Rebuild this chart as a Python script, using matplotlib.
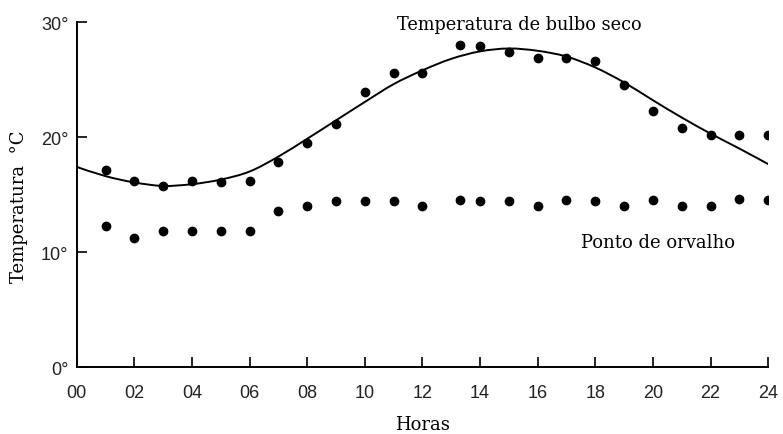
import numpy as np
import matplotlib.pyplot as plt
from matplotlib.path import Path
from matplotlib.patches import PathPatch

# hourly readings (dots)
hours = [1, 2, 3, 4, 5, 6, 7, 8, 9, 10, 11, 12, 13.3, 14, 15, 16, 17, 18, 19, 20, 21, 22, 23, 24]
dry_bulb = [17.1, 16.2, 15.7, 16.2, 16.1, 16.2, 17.8, 19.5, 21.1, 23.9, 25.6, 25.6,
            28.0, 27.9, 27.4, 26.9, 26.9, 26.6, 24.5, 22.3, 20.8, 20.2, 20.2, 20.2]
dew_point = [12.3, 11.2, 11.8, 11.8, 11.8, 11.8, 13.6, 14.0, 14.4, 14.4, 14.4, 14.0,
             14.5, 14.4, 14.4, 14.0, 14.5, 14.4, 14.0, 14.5, 14.0, 14.0, 14.6, 14.5]

# fitted curve of the dry bulb temperature, read hour by hour
curve_hours = list(range(0, 25))
curve_temp = [17.4, 16.6, 16.05, 15.75, 15.9, 16.3, 17.0, 18.3, 19.85, 21.45, 23.05, 24.6, 25.8,
              26.8, 27.45, 27.7, 27.5, 27.0, 26.05, 24.75, 23.2, 21.7, 20.3, 19.0, 17.65]

xtick_pos = list(range(0, 25, 2))
xtick_labels = ['%02d' % h for h in xtick_pos]
ytick_pos = [0, 10, 20, 30]
ytick_labels = ['0°', '10°', '20°', '30°']


def smooth_path(xs, ys):
    # cubic bezier segments through the given points (catmull-rom style handles)
    xs = np.asarray(xs, float)
    ys = np.asarray(ys, float)
    verts = [(xs[0], ys[0])]
    codes = [Path.MOVETO]
    n = len(xs)
    for i in range(n - 1):
        x0, y0 = (xs[i - 1], ys[i - 1]) if i > 0 else (xs[i], ys[i])
        x3, y3 = (xs[i + 2], ys[i + 2]) if i + 2 < n else (xs[i + 1], ys[i + 1])
        c1 = (xs[i] + (xs[i + 1] - x0) / 6, ys[i] + (ys[i + 1] - y0) / 6)
        c2 = (xs[i + 1] - (x3 - xs[i]) / 6, ys[i + 1] - (y3 - ys[i]) / 6)
        verts += [c1, c2, (xs[i + 1], ys[i + 1])]
        codes += [Path.CURVE4] * 3
    return Path(verts, codes)


fig = plt.figure(figsize=(7.83, 4.35), dpi=100)
ax = fig.add_axes([0.098, 0.154, 0.883, 0.793])

ax.add_patch(PathPatch(smooth_path(curve_hours, curve_temp), facecolor='none',
                       edgecolor='black', linewidth=1.4))
ax.plot(hours, dry_bulb, 'o', color='black', markersize=6)
ax.plot(hours, dew_point, 'o', color='black', markersize=6)

ax.set_xlim(0, 24)
ax.set_ylim(0, 30)
ax.spines['top'].set_visible(False)
ax.spines['right'].set_visible(False)
ax.spines['left'].set_linewidth(1.4)
ax.spines['bottom'].set_linewidth(1.4)

ax.set_xticks(xtick_pos)
ax.set_xticklabels(xtick_labels, fontsize=13, family='Liberation Sans', color='#222222')
ax.set_yticks(ytick_pos)
ax.set_yticklabels(ytick_labels, fontsize=13, family='Liberation Sans', color='#222222')
ax.tick_params(direction='in', length=7, width=1.2)
ax.tick_params(axis='x', pad=12)
ax.tick_params(axis='y', pad=6)

ax.set_xlabel('Horas', fontsize=13, family='DejaVu Serif', labelpad=10)
ax.set_ylabel('Temperatura  °C', fontsize=13, family='DejaVu Serif')
ax.yaxis.set_label_coords(-0.071, 0.467)

ax.text(11.1, 29.8, 'Temperatura de bulbo seco', fontsize=12.8, family='DejaVu Serif', va='center')
ax.text(17.5, 10.9, 'Ponto de orvalho', fontsize=13, family='DejaVu Serif', va='center')

plt.savefig('out.png', dpi=100)
